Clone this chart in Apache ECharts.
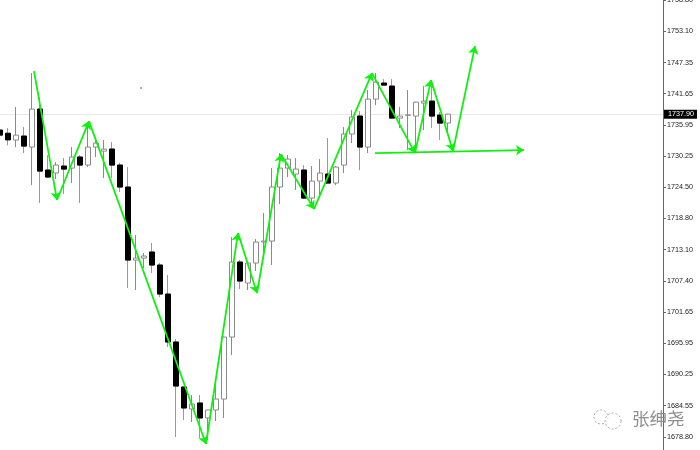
<!DOCTYPE html>
<html>
<head>
<meta charset="utf-8">
<style>html,body{margin:0;padding:0;background:#fff}#c{width:700px;height:450px}</style>
<script src="https://cdn.jsdelivr.net/npm/echarts@6/dist/echarts.min.js"></script>
</head>
<body>
<div id="c"></div>
<script>
var opens =[1734.99,1734.40,1733.16,1733.89,1731.88,1738.83,1727.67,1727.12,1728.40,1728.03,1730.05,1728.58,1731.88,1731.14,1731.51,1728.58,1724.56,1711.19,1711.56,1712.66,1710.28,1704.97,1696.19,1687.95,1683.92,1685.02,1682.28,1683.74,1685.75,1697.10,1710.83,1706.99,1710.65,1714.49,1714.67,1724.56,1728.03,1726.93,1727.67,1722.54,1725.65,1726.93,1725.29,1728.58,1734.26,1737.55,1731.88,1740.66,1743.59,1743.04,1737.18,1737.70,1737.55,1739.93,1740.29,1737.73,1736.27];
var closes=[1734.07,1733.20,1734.07,1732.06,1738.83,1727.48,1726.39,1728.58,1727.85,1730.05,1728.58,1731.88,1732.61,1731.51,1728.58,1724.56,1711.19,1711.56,1711.93,1710.28,1704.97,1696.19,1688.13,1684.11,1684.84,1682.28,1683.74,1685.75,1697.10,1710.83,1707.35,1710.65,1714.49,1714.67,1724.56,1728.03,1729.68,1727.85,1722.54,1725.65,1727.12,1725.29,1728.22,1734.26,1737.37,1731.88,1740.66,1743.77,1743.22,1737.18,1737.55,1737.75,1740.11,1740.29,1737.55,1736.27,1737.90];
var lows  =[1732.79,1732.20,1731.88,1730.78,1724.92,1721.63,1726.20,1726.02,1723.27,1725.29,1721.63,1728.22,1730.05,1726.20,1726.20,1723.64,1706.07,1705.70,1709.73,1708.82,1704.42,1695.27,1678.80,1681.91,1681.55,1678.62,1678.25,1681.73,1682.28,1693.81,1705.89,1705.70,1709.18,1712.48,1710.28,1721.44,1726.39,1724.01,1722.36,1720.71,1722.73,1725.29,1724.92,1727.12,1732.61,1727.67,1730.78,1739.56,1743.22,1737.18,1735.35,1731.33,1730.78,1734.99,1735.35,1733.16,1734.44];
var highs =[1735.90,1735.35,1739.20,1735.54,1745.42,1741.03,1730.41,1729.13,1729.86,1731.88,1730.41,1736.45,1733.52,1733.16,1732.79,1729.00,1728.22,1715.77,1712.48,1714.31,1710.65,1708.45,1696.74,1688.00,1686.49,1686.49,1683.80,1688.32,1697.20,1715.40,1711.19,1710.83,1715.04,1719.80,1728.03,1730.78,1730.41,1729.86,1728.58,1728.40,1729.68,1733.52,1728.40,1735.54,1738.65,1738.46,1742.31,1745.42,1744.32,1744.32,1739.20,1742.31,1740.20,1743.04,1743.77,1738.28,1738.00];
var tickLabels=['1758.80','1753.10','1747.35','1741.65','1735.95','1730.25','1724.50','1718.80','1713.10','1707.40','1701.65','1695.95','1690.25','1684.55','1678.80'];
var lastPrice=1737.90;
var zigzagX=[4.25,7.125,11.125,25.75,29.75,32.125,35.125,39.25,46.5,51.875,53.875,56.625,59.375];
var zigzagY=[1745.79,1722.18,1736.63,1677.52,1716.14,1705.16,1730.59,1720.53,1745.42,1730.78,1744.14,1731.14,1750.36];
var supportX=[46.875,65.5];
var supportY=[1730.78,1731.33];
var strayDot=[17.625,1742.67];

var all=opens.map(function(o,i){return [i,o,closes[i],lows[i],highs[i]];});
var darkBodies=[];
opens.forEach(function(o,i){ if(closes[i]<o) darkBodies.push([i,o,closes[i],closes[i],o]); });
var segs=[];
for(var i=0;i<zigzagX.length-1;i++){ segs.push({coords:[[zigzagX[i],zigzagY[i]],[zigzagX[i+1],zigzagY[i+1]]]}); }
segs.push({coords:[[supportX[0],supportY[0]],[supportX[1],supportY[1]]]});

var chart=echarts.init(document.getElementById('c'),null,{renderer:'canvas'});
chart.setOption({
  animation:false,
  backgroundColor:'#fff',
  grid:{left:0,right:37,top:0,bottom:0,containLabel:false,outerBoundsMode:'none'},
  xAxis:{type:'value',min:0,max:82.875,show:false,splitLine:{show:false}},
  yAxis:{type:'value',position:'right',min:1676.42,max:1758.8,scale:true,
    splitLine:{show:false},
    axisLine:{show:true,onZero:false,lineStyle:{color:'#666',width:1}},
    axisTick:{show:true,length:3,lineStyle:{color:'#666'},customValues:tickLabels.map(Number)},
    axisLabel:{show:true,color:'#222',fontFamily:'Liberation Sans',fontSize:7.2,margin:4,
      customValues:tickLabels.map(Number),
      formatter:function(v){return Number(v).toFixed(2);}}
  },
  series:[
    {type:'candlestick',data:all,encode:{x:0,y:[1,2,3,4]},barWidth:6,z:2,
      itemStyle:{color:'#fff',color0:'#000',borderColor:'#8a8a8a',borderColor0:'#9a9a9a',borderWidth:1},
      markLine:{silent:true,symbol:'none',z:1,
        lineStyle:{color:'#e8e8e8',width:1,type:'solid'},
        label:{show:true,position:'end',formatter:'1737.90',color:'#fff',backgroundColor:'#000',
          fontFamily:'Liberation Sans',fontSize:7.2,padding:[1,3,1,4],distance:1},
        data:[{yAxis:lastPrice}]}},
    {type:'candlestick',data:darkBodies,encode:{x:0,y:[1,2,3,4]},barWidth:6,z:3,
      itemStyle:{color:'#000',color0:'#000',borderColor:'#000',borderColor0:'#000',borderWidth:1}},
    {type:'lines',coordinateSystem:'cartesian2d',polyline:false,data:segs,z:5,
      symbol:['none','arrow'],symbolSize:[0,8],
      lineStyle:{color:'#10f010',width:1.8,opacity:1}},
    {type:'scatter',data:[strayDot],symbolSize:2,z:2,itemStyle:{color:'#777'}}
  ],
  graphic:[
    {type:'circle',shape:{cx:601,cy:417,r:7},style:{fill:'rgba(255,255,255,.7)',stroke:'#aaa',lineWidth:1,lineDash:[2,2]},z:20},
    {type:'circle',shape:{cx:613,cy:421,r:8},style:{fill:'rgba(255,255,255,.7)',stroke:'#aaa',lineWidth:1,lineDash:[2,2]},z:20},
    {type:'text',x:632,y:410,z:20,style:{text:'张绅尧',fill:'#8e8e8e',font:'17.5px "Noto Sans CJK SC"'}}
  ]
});
</script>
</body>
</html>
